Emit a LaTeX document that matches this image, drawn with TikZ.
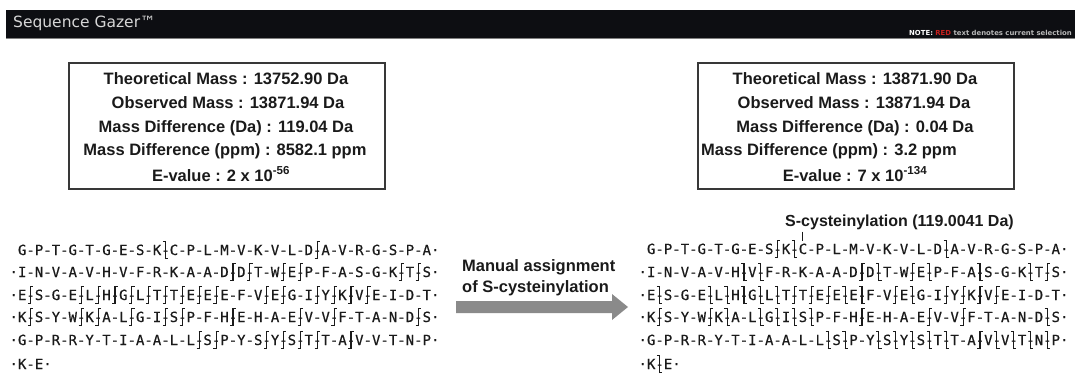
\documentclass[tikz,border=0pt]{standalone}
\usepackage{fontspec}
\setmainfont{Liberation Sans}
\newfontfamily\seqfont[FakeBold=0.5]{DejaVu Sans Mono}
\newfontfamily\hdrfont{DejaVu Sans}
\newfontfamily\notefont{DejaVu Sans}
\definecolor{hdrbg}{HTML}{0D0E12}
\definecolor{titlegray}{HTML}{D6D6D6}
\definecolor{notegray}{HTML}{B8B8B8}
\definecolor{notered}{HTML}{C8201E}
\definecolor{boxline}{HTML}{383838}
\definecolor{txt}{HTML}{1A1A1A}
\definecolor{arrowgray}{HTML}{8A8A8A}
\newlength\cwid \setlength\cwid{8.43pt}
% fragment markers: cell-wide hyphen with a hooked stem
\newcommand\xa{\makebox[\cwid][l]{%
  \rlap{-}%
  \rlap{\kern3.7pt\rule[-4pt]{1.15pt}{17.8pt}}%
  \rlap{\kern3.7pt\rule[12.65pt]{3.3pt}{1.15pt}}%
  \rlap{\kern1.5pt\rule[-4pt]{3.3pt}{1.15pt}}}}
\newcommand\xb{\makebox[\cwid][l]{%
  \rlap{-}%
  \rlap{\kern3.7pt\rule[-4pt]{1.15pt}{17.8pt}}%
  \rlap{\kern1.5pt\rule[12.65pt]{3.3pt}{1.15pt}}%
  \rlap{\kern3.7pt\rule[-4pt]{3.3pt}{1.15pt}}}}
\tikzset{
  seq/.style={anchor=base west, inner sep=0pt, outer sep=0pt, text=txt,
    font=\seqfont\fontsize{14}{16}\selectfont},
  massbox/.style={draw=boxline, line width=1.7pt, inner sep=0pt,
    minimum width=316pt, minimum height=126pt},
  masstxt/.style={inner sep=0pt, text=txt, font=\bfseries\fontsize{16.5}{18}\selectfont},
}
\begin{document}
\begin{tikzpicture}[x=1pt,y=-1pt]
\useasboundingbox (0,0) rectangle (1075,390);
% header
\fill[hdrbg] (6,10) rectangle (1075,38);
\draw[gray, line width=0.8pt] (6,38.4) -- (1075,38.4);
\node[anchor=west, inner sep=0pt, text=titlegray, font=\hdrfont\fontsize{15.5}{17}\selectfont] (title) at (13,23) {Sequence Gazer™};
\node[anchor=base east, inner sep=0pt, text=notegray, font=\notefont\bfseries\fontsize{6.9}{8}\selectfont] (note) at (1072,36)
  {\textcolor{white}{NOTE:} \textcolor{notered}{RED} text denotes current selection};
% left mass box
\node[massbox] (lbox) at (227,126) {};
\node[masstxt] (l1) at (226,79) {Theoretical Mass : 13752.90 Da};
\node[masstxt] (l2) at (228,103) {Observed Mass : 13871.94 Da};
\node[masstxt] (l3) at (226,128) {Mass Difference (Da) : 119.04 Da};
\node[masstxt] (l4) at (225,151) {Mass Difference (ppm) : 8582.1 ppm};
\node[masstxt] (l5) at (221,174) {E-value : 2 x 10\textsuperscript{-56}};
% right mass box
\node[massbox] (rbox) at (856,126) {};
\node[masstxt] (q1) at (855,79) {Theoretical Mass : 13871.90 Da};
\node[masstxt] (q2) at (854,103) {Observed Mass : 13871.94 Da};
\node[masstxt] (q3) at (855,128) {Mass Difference (Da) : 0.04 Da};
\node[masstxt, anchor=west] (q4) at (701,151) {Mass Difference (ppm) : 3.2 ppm};
\node[masstxt] (q5) at (855,174) {E-value : 7 x 10\textsuperscript{-134}};
% left sequence
\node[seq] (s1) at (18,255) {G-P-T-G-T-G-E-S-K\xb C-P-L-M-V-K-V-L-D\xa A-V-R-G-S-P-A·};
\node[seq] (s2) at (18,277) {\llap{·}I-N-V-A-V-H-V-F-R-K-A-A-D\xa D\xa T-W\xa E\xa P-F-A-S-G-K\xa T\xa S·};
\node[seq] (s3) at (18,300) {\llap{·}E\xa S-G-E\xa L\xa H\xa G\xa L\xa T\xa T\xa E\xa E\xa E-F-V\xa E\xa G-I\xa Y\xa K\xa V\xa E-I-D-T·};
\node[seq] (s4) at (18,322) {\llap{·}K\xa S-Y-W\xa K\xa A-L\xa G-I\xa S\xa P-F-H\xa E-H-A-E\xa V-V\xa F-T-A-N-D\xa S·};
\node[seq] (s5) at (18,345) {\llap{·}G-P-R-R-Y-T-I-A-A-L-L\xa S\xa P-Y-S\xa Y\xa S\xa T\xa T-A\xa V-V-T-N-P·};
\node[seq] (s6) at (18,369) {\llap{·}K-E·};
% arrow and its label
\fill[arrowgray] (456,301) -- (612,301) -- (612,294) -- (628,307) -- (612,320) -- (612,313) -- (456,313) -- cycle;
\node[anchor=north west, inner sep=0pt, align=left, text=txt, font=\bfseries\fontsize{16.5}{21}\selectfont] (albl) at (462,259)
  {Manual assignment\\of S-cysteinylation};
% right sequence
\node[seq] (r1a) at (647,254) {G-P-T-G-T-G-E-S\xa K\xb};
\node[seq] (rC) at (r1a.base east) {C};
\node[seq] (r1b) at (rC.base east) {-P-L-M-V-K-V-L-D\xb A-V-R-G-S-P-A·};
\node[seq] (r2) at (647,277) {\llap{·}I-N-V-A-V-H\xb V\xb F-R-K-A-A-D\xa D\xb T-W\xa E\xb P-F-A\xb S-G-K\xb T\xa S·};
\node[seq] (r3) at (647,300) {\llap{·}E\xb S-G-E\xb L\xb H\xb G\xb L\xb T\xa T\xa E\xa E\xb E\xb F-V\xa E\xb G-I\xa Y\xa K\xa V\xa E-I-D-T·};
\node[seq] (r4) at (647,322) {\llap{·}K\xa S-Y-W\xa K\xb A-L\xb G\xb I\xb S\xb P-F-H\xa E-H-A-E\xa V-V\xa F-T-A-N-D\xb S·};
\node[seq] (r5) at (647,345) {\llap{·}G-P-R-R-Y-T-I-A-A-L-L\xb S\xb P-Y\xb S\xb Y\xb S\xb T\xb T-A\xa V\xb V\xb T\xb N\xb P·};
\node[seq] (r6) at (647,369) {\llap{·}K\xb E·};
% modification label
\node[anchor=base west, inner sep=0pt, text=txt, font=\bfseries\fontsize{16}{18}\selectfont] (mod) at (785,226) {S-cysteinylation (119.0041 Da)};
\draw[txt, line width=1pt] ([yshift=-2pt]mod.south -| rC.north) -- ([yshift=3pt]rC.north);
\end{tikzpicture}
\end{document}
